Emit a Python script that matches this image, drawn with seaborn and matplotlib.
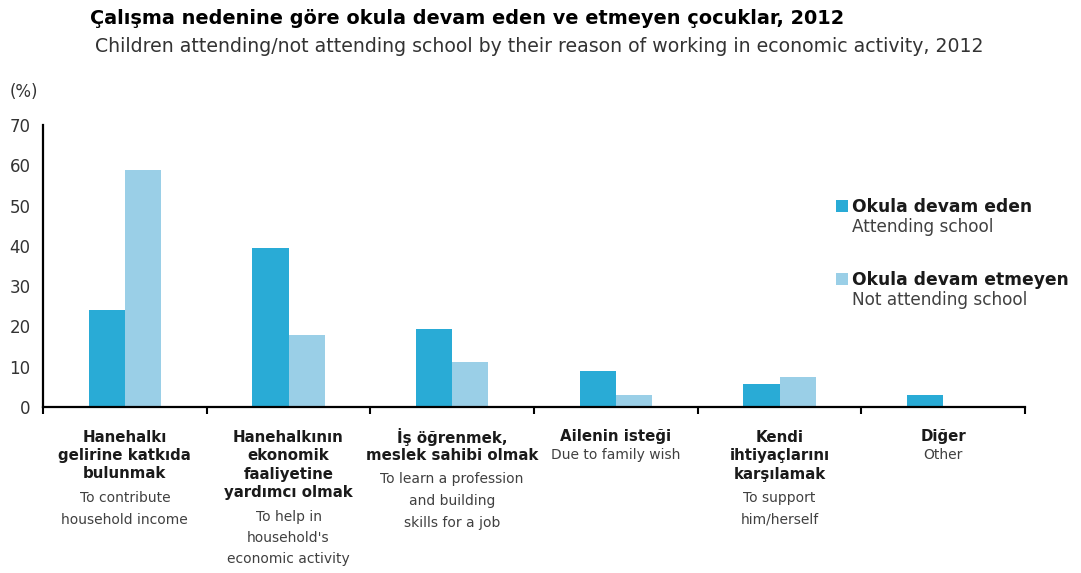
import matplotlib
matplotlib.use("Agg")
import matplotlib.pyplot as plt
import seaborn as sns
import pandas as pd
from matplotlib.patches import Patch

# ---------------- data ----------------
categories_tr = [
    "Hanehalkı\ngelirine katkıda\nbulunmak",
    "Hanehalkının\nekonomik\nfaaliyetine\nyardımcı olmak",
    "İş öğrenmek,\nmeslek sahibi olmak",
    "Ailenin isteği",
    "Kendi\nihtiyaçlarını\nkarşılamak",
    "Diğer",
]
categories_en = [
    "To contribute\nhousehold income",
    "To help in\nhousehold's\neconomic activity",
    "To learn a profession\nand building\nskills for a job",
    "Due to family wish",
    "To support\nhim/herself",
    "Other",
]
series_tr = ["Okula devam eden", "Okula devam etmeyen"]
series_en = ["Attending school", "Not attending school"]
attending = [24.2, 39.5, 19.3, 8.9, 5.7, 3.0]
not_attending = [58.9, 17.8, 11.1, 3.0, 7.5, 0.0]
y_ticks = [0, 10, 20, 30, 40, 50, 60, 70]

title = "Çalışma nedenine göre okula devam eden ve etmeyen çocuklar, 2012"
subtitle = "Children attending/not attending school by their reason of working in economic activity, 2012"
unit_label = "(%)"

colors = ["#29abd6", "#9acfe7"]

# ---------------- style ----------------
sns.set_theme(style="white")
plt.rcParams["font.family"] = ["DejaVu Sans"]

W, H = 1081, 573
fig = plt.figure(figsize=(W / 100, H / 100), dpi=100)
ax = fig.add_axes([43 / W, (H - 407) / H, 982 / W, 282 / H])

cat_keys = [str(i) for i in range(len(categories_tr))]
df = pd.DataFrame({
    "cat": cat_keys * 2,
    "series": [series_tr[0]] * len(cat_keys) + [series_tr[1]] * len(cat_keys),
    "value": attending + not_attending,
})

sns.barplot(data=df, x="cat", y="value", hue="series", order=cat_keys,
            hue_order=series_tr, palette=colors, width=0.44, gap=0,
            saturation=1, errorbar=None, legend=False, linewidth=0,
            edgecolor="none", ax=ax)

ax.set_xlim(-0.5, len(cat_keys) - 0.5)
ax.set_ylim(0, 70)
ax.set_yticks(y_ticks)
ax.set_yticklabels([str(v) for v in y_ticks])
ax.set_xticks([i - 0.5 for i in range(len(cat_keys) + 1)])
ax.set_xticklabels([])
ax.set_xlabel("")
ax.set_ylabel("")
sns.despine(ax=ax)
for s in ["left", "bottom"]:
    ax.spines[s].set_linewidth(1.6)
    ax.spines[s].set_color("black")
ax.tick_params(axis="both", direction="out", length=5, width=1.5, color="black")
ax.tick_params(axis="y", labelsize=12, labelcolor="#333333", pad=4)
ax.tick_params(axis="x", bottom=True)

# category labels
PX2PT = 0.72
for i, (tr, en) in enumerate(zip(categories_tr, categories_en)):
    tr_lines = tr.split("\n")
    en_lines = en.split("\n")
    y = 30
    for ln in tr_lines:
        ax.annotate(ln, xy=(i, 0), xycoords=("data", "axes fraction"),
                    xytext=(0, -y * PX2PT), textcoords="offset points",
                    ha="center", va="center", fontsize=10.8, fontweight="bold",
                    color="#1a1a1a", annotation_clip=False)
        y += 18.5
    y += (24 if len(tr_lines) > 1 else 18) - 18.5
    for ln in en_lines:
        ax.annotate(ln, xy=(i, 0), xycoords=("data", "axes fraction"),
                    xytext=(0, -y * PX2PT), textcoords="offset points",
                    ha="center", va="center", fontsize=10, color="#404040",
                    annotation_clip=False)
        y += 21.5

# titles
fig.text(90 / W, 1 - 18 / H, title, ha="left", va="center", fontsize=13.9,
         fontweight="bold", color="black")
fig.text(95 / W, 1 - 47 / H, subtitle, ha="left", va="center", fontsize=13.6,
         color="#333333")
fig.text(10 / W, 1 - 92 / H, unit_label, ha="left", va="center", fontsize=12,
         color="#333333")

# legend
handles = [Patch(facecolor=c, edgecolor="none") for c in colors]
leg = fig.legend(handles, series_tr, loc="upper left",
                 bbox_to_anchor=(836 / W, 1 - 198 / H), frameon=False,
                 prop={"weight": "bold", "size": 12.3}, handlelength=0.7,
                 handleheight=0.7, handletextpad=0.25, labelspacing=3.2,
                 borderpad=0, borderaxespad=0)
for t in leg.get_texts():
    t.set_color("#1a1a1a")

fig.canvas.draw()
for txt, en in zip(leg.get_texts(), series_en):
    bb = txt.get_window_extent()
    fig.text(bb.x0 / W, (bb.y0 - 2) / H, en, ha="left", va="top",
             fontsize=12.2, color="#404040")

fig.savefig("out.png", dpi=100)
